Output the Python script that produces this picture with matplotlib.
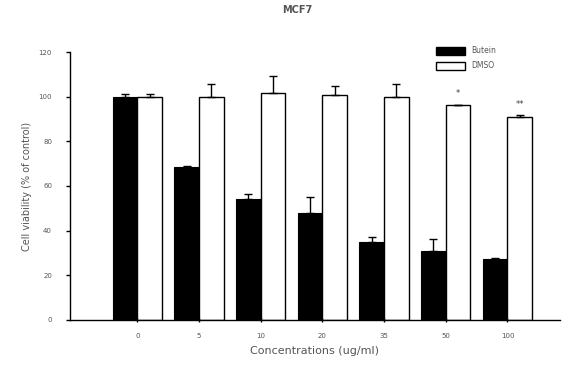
import matplotlib
matplotlib.use("Agg")
import matplotlib.pyplot as plt
import numpy as np
from matplotlib.patches import Patch

categories = ["0", "5", "10", "20", "35", "50", "100"]
butein = [100, 68.5, 54.3, 48.0, 35.0, 31.0, 27.3]
butein_err = [1.0, 0.4, 2.2, 7.2, 2.2, 5.3, 0.3]
dmso = [100, 100, 101.8, 100.9, 100, 96.1, 90.9]
dmso_err = [1.0, 5.8, 7.6, 4.0, 5.8, 0.3, 0.7]
stars = ["", "", "", "", "", "*", "**"]
yticks = [0, 20, 40, 60, 80, 100, 120]

fig = plt.figure(figsize=(5.65, 3.69), dpi=100)
ax = fig.add_axes([0.124, 0.133, 0.867, 0.726])

x = np.arange(len(categories))
w = 0.4
ax.bar(x - w / 2, butein, w, color="black", edgecolor="black", linewidth=0.8,
       yerr=[np.zeros(len(butein)), butein_err], error_kw=dict(ecolor="black", elinewidth=1.0, capsize=3, capthick=1.0))
ax.bar(x + w / 2, dmso, w, color="white", edgecolor="black", linewidth=1.0,
       yerr=[np.zeros(len(dmso)), dmso_err], error_kw=dict(ecolor="black", elinewidth=1.0, capsize=3, capthick=1.0))

for i, s in enumerate(stars):
    if s:
        ax.text(x[i] + w / 2, dmso[i] + dmso_err[i] + 3, s, ha="center", va="bottom",
                fontsize=6, color="#444444")

ax.set_xlim(-1.09, 6.85)
ax.set_ylim(0, 120)
ax.set_yticks(yticks)
ax.set_yticklabels([str(v) for v in yticks], fontsize=5, color="#555555")
ax.set_xticks(x)
ax.set_xticklabels(categories, fontsize=5, color="#555555")
ax.tick_params(axis="y", length=3, width=1, pad=10)
ax.tick_params(axis="x", length=3, width=1, pad=8, direction="inout")
ax.spines["top"].set_visible(False)
ax.spines["right"].set_visible(False)
ax.spines["left"].set_linewidth(1.0)
ax.spines["bottom"].set_linewidth(1.0)

ax.set_ylabel("Cell viability (% of control)", fontsize=7, color="#555555", labelpad=5)
ax.set_xlabel("Concentrations (ug/ml)", fontsize=8, color="#555555", labelpad=5)
fig.text(0.526, 0.972, "MCF7", ha="center", va="center", fontsize=7, fontweight="bold", color="#555555")

handles = [Patch(facecolor="black", edgecolor="black", label="Butein"),
           Patch(facecolor="white", edgecolor="black", label="DMSO")]
leg = fig.legend(handles=handles, loc="upper left", bbox_to_anchor=(0.772, 0.874), frameon=False,
                 fontsize=5.5, handlelength=3.8, handleheight=1.2, labelspacing=0.75,
                 borderpad=0, borderaxespad=0, handletextpad=0.8)
for t in leg.get_texts():
    t.set_color("#555555")

fig.savefig("out.png", dpi=100)
